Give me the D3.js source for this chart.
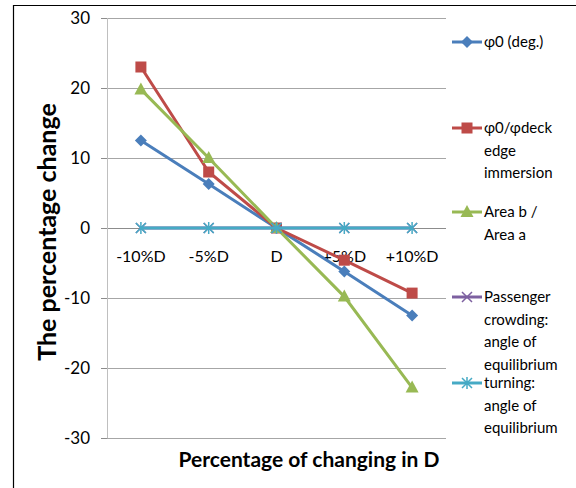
<!DOCTYPE html>
<html>
<head>
<meta charset="utf-8">
<script src="https://cdn.jsdelivr.net/npm/d3@7"></script>
<style>
  body { margin: 0; background: #fff; }
  text { font-family: Lato, "Open Sans", sans-serif; fill: #000; }
</style>
</head>
<body>
<div id="chart"></div>
<script>
// categories and series values
var categories = ["-10%D", "-5%D", "D", "+5%D", "+10%D"];
var phi0 = [12.5, 6.3, 0, -6.2, -12.5];
var phiDeck = [23, 8, 0, -4.6, -9.3];
var areaRatio = [19.8, 10, 0, -9.8, -22.8];
var passenger = [0, 0, 0, 0, 0];
var turning = [0, 0, 0, 0, 0];
var yTicks = [-30, -20, -10, 0, 10, 20, 30];

var series = [
  {name: ["φ0 (deg.)"], values: phi0, color: "#4a7ebb", marker: "diamond", ly: 42},
  {name: ["φ0/φdeck", "edge", "immersion"], values: phiDeck, color: "#be4b48", marker: "square", ly: 128},
  {name: ["Area b /", "Area a"], values: areaRatio, color: "#98b954", marker: "triangle", ly: 212},
  {name: ["Passenger", "crowding:", "angle of", "equilibrium"], values: passenger, color: "#7d60a0", marker: "x", ly: 297},
  {name: ["turning:", "angle of", "equilibrium"], values: turning, color: "#46aac5", marker: "star", ly: 383}
];

var W = 576, H = 488;
var margin = {top: 18, left: 107, right: 130, bottom: 50};
var width = 446 - margin.left,
    height = 438 - margin.top;

var svg = d3.select("#chart").append("svg")
  .attr("width", W)
  .attr("height", H);

// outer frame (only left and top visible)
svg.append("path")
  .attr("d", "M13.5," + H + "V5.5H" + W)
  .attr("fill", "none")
  .attr("stroke", "#000")
  .attr("stroke-width", 1.2);

var g = svg.append("g")
  .attr("transform", "translate(" + margin.left + "," + margin.top + ")");

var x = d3.scaleBand().domain(categories).range([0, width]);
var y = d3.scaleLinear().domain([-30, 30]).range([height, 0]);

// gridlines
g.selectAll(".grid").data(yTicks).enter().append("line")
  .attr("x1", 0).attr("x2", width)
  .attr("y1", function(d) { return y(d) + 0.5; })
  .attr("y2", function(d) { return y(d) + 0.5; })
  .attr("stroke", function(d) { return d === 0 ? "#8c8c8c" : "#a6a6a6"; })
  .attr("stroke-width", 1);

// y axis
var yAxis = g.append("g")
  .call(d3.axisLeft(y).tickValues(yTicks).tickSize(6).tickPadding(11)
    .tickFormat(function(d) { return String(d); }));
yAxis.select(".domain").attr("stroke", "#bfbfbf").attr("d", "M0.5,0V" + height);
yAxis.selectAll(".tick line").attr("stroke", "#8c8c8c");
yAxis.selectAll("text").style("font-size", "17px").attr("fill", "#000");

// x category labels next to zero line
g.selectAll(".xlab").data(categories).enter().append("text")
  .attr("x", function(d) { return x(d) + x.bandwidth() / 2; })
  .attr("y", y(0) + 34)
  .attr("text-anchor", "middle")
  .style("font-size", "16px")
  .text(function(d) { return d; });

// markers
function drawMarker(sel, type, color) {
  if (type === "diamond") {
    sel.append("path").attr("d", "M0,-6L6,0L0,6L-6,0Z").attr("fill", color);
  } else if (type === "square") {
    sel.append("rect").attr("x", -5.5).attr("y", -5.5).attr("width", 11).attr("height", 11).attr("fill", color);
  } else if (type === "triangle") {
    sel.append("path").attr("d", "M0,-7L6.5,5L-6.5,5Z").attr("fill", color);
  } else if (type === "x") {
    sel.append("path").attr("d", "M-5,-5L5,5M-5,5L5,-5").attr("stroke", color).attr("stroke-width", 1.5);
  } else if (type === "star") {
    sel.append("path").attr("d", "M-5,-5L5,5M-5,5L5,-5M0,-6V6").attr("stroke", color).attr("stroke-width", 1.5);
  }
}

var line = d3.line()
  .x(function(d, i) { return x(categories[i]) + x.bandwidth() / 2; })
  .y(function(d) { return y(d); });

series.forEach(function(s) {
  g.append("path")
    .datum(s.values)
    .attr("fill", "none")
    .attr("stroke", s.color)
    .attr("stroke-width", 3)
    .attr("d", line);
  s.values.forEach(function(v, i) {
    var m = g.append("g")
      .attr("transform", "translate(" + (x(categories[i]) + x.bandwidth() / 2) + "," + y(v) + ")");
    drawMarker(m, s.marker, s.color);
  });
});

// legend
series.forEach(function(s) {
  var lg = svg.append("g").attr("transform", "translate(452," + s.ly + ")");
  lg.append("line").attr("x1", 0).attr("x2", 30).attr("y1", 0).attr("y2", 0)
    .attr("stroke", s.color).attr("stroke-width", 3);
  var m = lg.append("g").attr("transform", "translate(15,0)");
  drawMarker(m, s.marker, s.color);
  s.name.forEach(function(t, i) {
    lg.append("text")
      .attr("x", 32)
      .attr("y", i * 22.5 + 5)
      .style("font-size", "15px")
      .text(t);
  });
});

// axis titles
svg.append("text")
  .attr("transform", "translate(56," + 232 + ") rotate(-90)")
  .attr("text-anchor", "middle")
  .style("font-size", "25px")
  .style("font-weight", "bold")
  .text("The percentage change");

svg.append("text")
  .attr("x", 309)
  .attr("y", 467)
  .attr("text-anchor", "middle")
  .style("font-size", "21px")
  .style("font-weight", "bold")
  .text("Percentage of changing in D");
</script>
</body>
</html>
